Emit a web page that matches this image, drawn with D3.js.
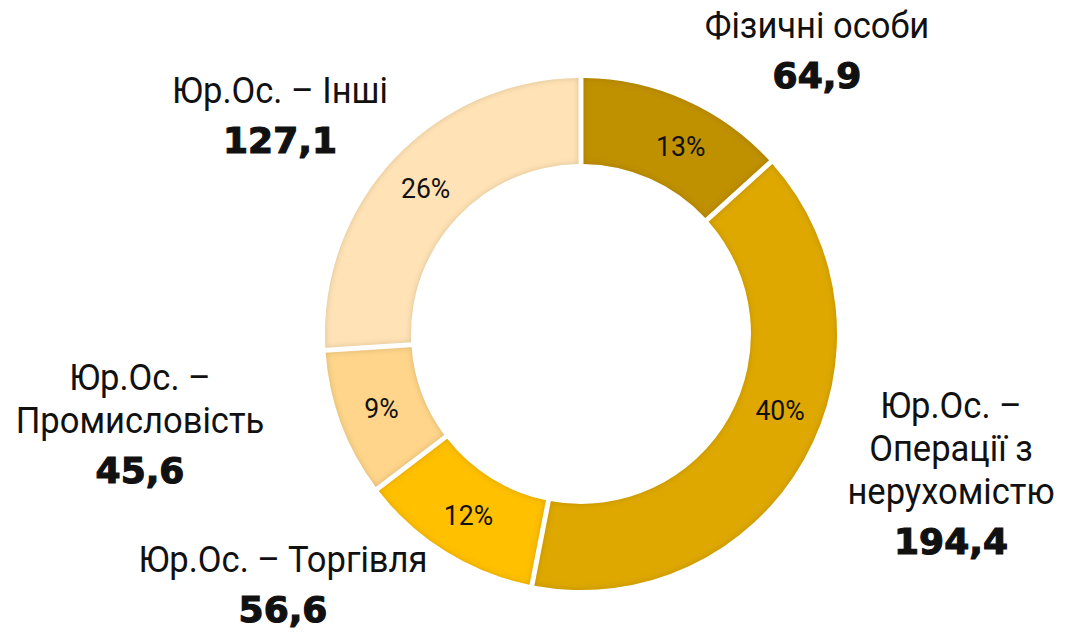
<!DOCTYPE html>
<html>
<head>
<meta charset="utf-8">
<script src="https://cdn.jsdelivr.net/npm/d3@7"></script>
<style>
  html, body { margin: 0; padding: 0; background: #fff; }
</style>
</head>
<body>
<div class="container"></div>
<script>
var width = 1081,
    height = 634;

// data (clockwise from 12 o'clock)
var categories = ["Фізичні особи", "Юр.Ос. – Операції з нерухомістю", "Юр.Ос. – Торгівля", "Юр.Ос. – Промисловість", "Юр.Ос. – Інші"];
var values = [64.9, 194.4, 56.6, 45.6, 127.1];
var valueLabels = ["64,9", "194,4", "56,6", "45,6", "127,1"];
var labelLines = [
    ["Фізичні особи"],
    ["Юр.Ос. –", "Операції з", "нерухомістю"],
    ["Юр.Ос. – Торгівля"],
    ["Юр.Ос. –", "Промисловість"],
    ["Юр.Ос. – Інші"]
];
var colors = ["#bf9000", "#dea800", "#ffc000", "#fed58a", "#ffe3b6"];

// layout: where the outside labels sit (center x, baseline of first line)
var labelAnchors = [[817, 38], [951, 418], [283, 572], [140, 390], [280, 103]];
// the original nudged two percentage labels along the ring (radians)
var pctNudge = [0.07, -0.15, 0, 0, 0];

var cx = 581, cy = 334,
    outerR = 256, innerR = 170,
    lineH = 43;

var svg = d3.select('.container')
    .append('svg')
    .attr('xmlns', 'http://www.w3.org/2000/svg')
    .attr('width', width)
    .attr('height', height);

// soft inner shading like the original bevel
var defs = svg.append('defs');
var f = defs.append('filter').attr('id', 'inset')
    .attr('x', '-5%').attr('y', '-5%').attr('width', '110%').attr('height', '110%');
f.append('feGaussianBlur').attr('in', 'SourceAlpha').attr('stdDeviation', 3).attr('result', 'blur');
f.append('feComposite').attr('in', 'SourceAlpha').attr('in2', 'blur').attr('operator', 'out').attr('result', 'edge');
f.append('feFlood').attr('flood-color', '#5a4000').attr('flood-opacity', 0.35).attr('result', 'col');
f.append('feComposite').attr('in', 'col').attr('in2', 'edge').attr('operator', 'in').attr('result', 'shade');
var m = f.append('feMerge');
m.append('feMergeNode').attr('in', 'SourceGraphic');
m.append('feMergeNode').attr('in', 'shade');

var pie = d3.pie().sort(null).value(function (d) { return d; });
var arcs = pie(values);
var total = d3.sum(values);

var arc = d3.arc()
    .innerRadius(innerR)
    .outerRadius(outerR)
    .padAngle(5 / Math.sqrt(innerR * innerR + outerR * outerR));

var g = svg.append('g').attr('transform', 'translate(' + cx + ',' + cy + ')');

g.selectAll('path.slice')
    .data(arcs)
    .enter().append('path')
    .attr('class', 'slice')
    .attr('d', arc)
    .attr('fill', function (d, i) { return colors[i]; })
    .attr('filter', 'url(#inset)');

// percentages inside the ring
var midR = (innerR + outerR) / 2;
g.selectAll('text.pct')
    .data(arcs)
    .enter().append('text')
    .attr('class', 'pct')
    .attr('transform', function (d, i) {
        var a = (d.startAngle + d.endAngle) / 2 + pctNudge[i];
        var x = midR * Math.sin(a), y = -midR * Math.cos(a);
        return 'translate(' + x + ',' + y + ') scale(0.95,1)';
    })
    .attr('text-anchor', 'middle')
    .attr('dy', '0.36em')
    .style('font-family', 'Roboto, sans-serif')
    .style('font-size', '28px')
    .style('fill', '#111')
    .text(function (d) { return Math.round(d.value / total * 100) + '%'; });

// outside labels
var lab = svg.selectAll('g.lab')
    .data(categories)
    .enter().append('g')
    .attr('class', 'lab')
    .attr('transform', function (d, i) {
        return 'translate(' + labelAnchors[i][0] + ',' + labelAnchors[i][1] + ')';
    });

lab.each(function (d, i) {
    var sel = d3.select(this);
    labelLines[i].forEach(function (t, j) {
        sel.append('text')
            .attr('transform', 'translate(0,' + (j * lineH) + ') scale(0.96,1)')
            .attr('text-anchor', 'middle')
            .style('font-family', 'Roboto, sans-serif')
            .style('font-size', '36px')
            .style('fill', '#111')
            .text(t);
    });
    sel.append('text')
        .attr('y', labelLines[i].length * lineH + 7)
        .attr('text-anchor', 'middle')
        .style('font-family', '"DejaVu Sans", sans-serif')
        .style('font-weight', 'bold')
        .style('font-size', '36px')
        .style('fill', '#111')
        .style('stroke', '#111')
        .style('stroke-width', 1.2)
        .text(valueLabels[i]);
});
</script>
</body>
</html>
